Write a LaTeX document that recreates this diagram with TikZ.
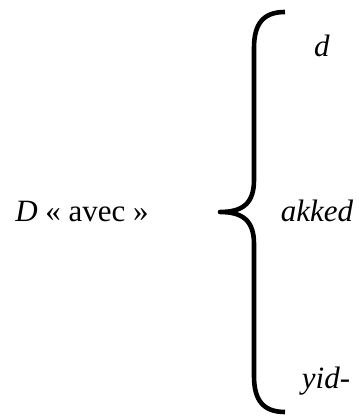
\documentclass[tikz,border=0pt]{standalone}
\usepackage{fontspec}
\setmainfont{Liberation Serif}
\usetikzlibrary{positioning}
\tikzset {
  every node/.style={font=\fontsize{31}{36}\selectfont, inner sep=0pt},
  brace/.style={line width=4.6pt, line join=round},
}

\begin{document}
\begin{tikzpicture}[x=1pt,y=1pt]
  \useasboundingbox (0,0) rectangle (359,418);
  \node[anchor=base] (prep) at (82,196) {\textit{D} « avec »};
  \node[anchor=base] (d) at (322,361) {\textit{d}};
  \node[anchor=base] (akked) at (317,196) {\textit{akked}};
  \node[anchor=base] (yid) at (326,30) {\textit{yid-}};
  \coordinate (tip) at (220,206);
  \draw[brace] (285,406) .. controls (263,406) and (254,394) .. (254,370)
    -- (254,238) .. controls (254,214) and (242,206) .. (tip)
    .. controls (242,206) and (254,198) .. (254,174)
    -- (254,42) .. controls (254,18) and (263,6) .. (285,6);
\end{tikzpicture}
\end{document}
